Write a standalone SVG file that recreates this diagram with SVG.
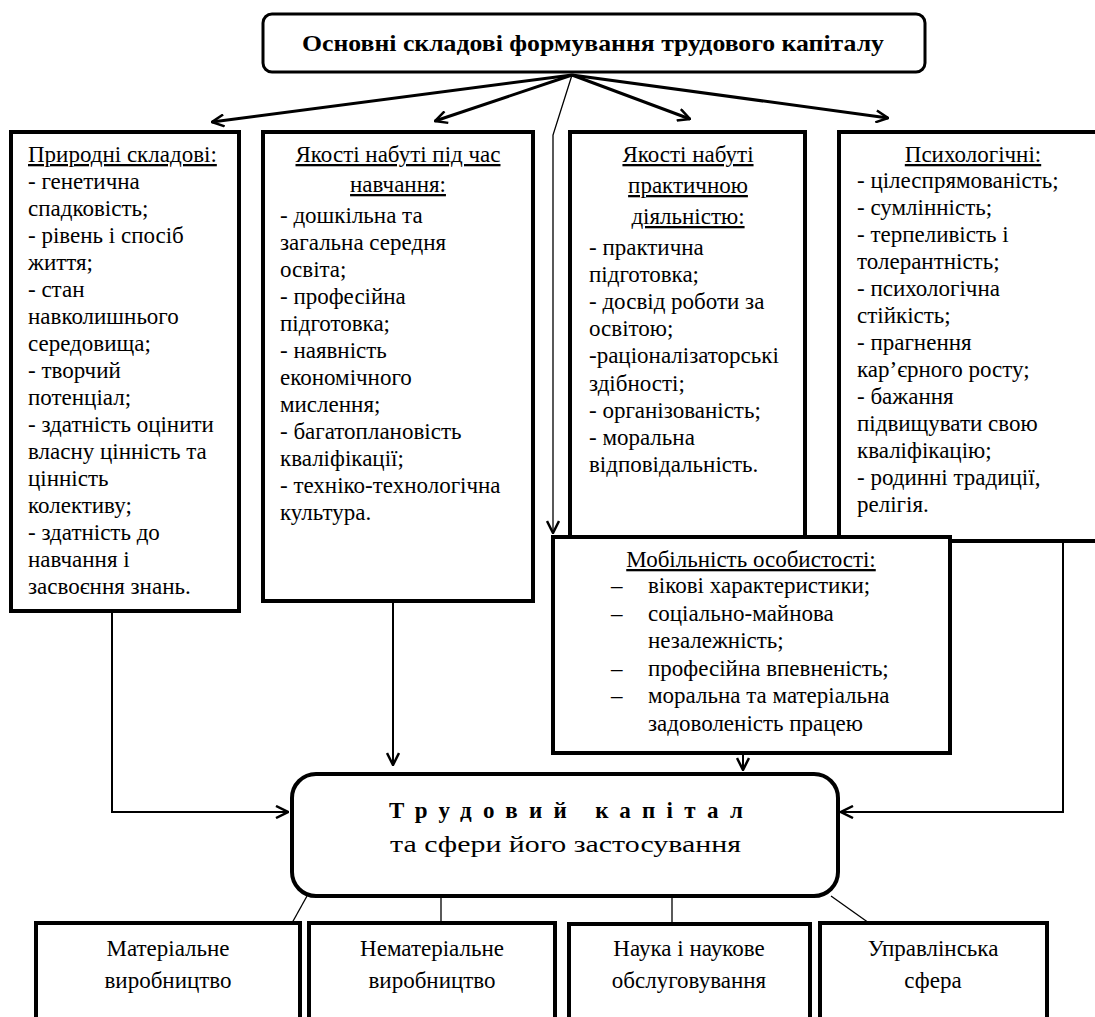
<svg xmlns="http://www.w3.org/2000/svg" width="1095" height="1017" viewBox="0 0 1095 1017">
<style>
.box{fill:#fff;stroke:#000;stroke-width:4}
.t{font-family:"Liberation Serif","Times New Roman",serif;font-size:23px;fill:#000}
.h{text-decoration:underline;text-anchor:middle}
.c{text-anchor:middle}
.arr{fill:none;stroke:#000;stroke-width:3}
.ln{fill:none;stroke:#000;stroke-width:2}
.thin{fill:none;stroke:#000;stroke-width:1.3}
</style>
<defs>
<marker id="ah" viewBox="0 0 14 14" markerWidth="14" markerHeight="14" refX="13" refY="7" orient="auto" markerUnits="userSpaceOnUse">
<path d="M1,1 L13,7 L1,13" fill="none" stroke="#000" stroke-width="2.5"/>
</marker>
</defs>
<rect width="1095" height="1017" fill="#fff"/>

<g id="connectors">
<path class="arr" d="M572,75 L212,122" stroke-width="2.6" marker-end="url(#ah)"/>
<path class="arr" d="M572,75 L435,121" marker-end="url(#ah)"/>
<path class="arr" d="M572,75 L690,119" marker-end="url(#ah)"/>
<path class="arr" d="M572,75 L888,118" marker-end="url(#ah)"/>
<path class="thin" d="M572,75 L553,135 L553,533" marker-end="url(#ah)"/>
<path class="ln" d="M112,582 L112,812 L288,812" marker-end="url(#ah)"/>
<path class="ln" d="M393,601 L393,765" marker-end="url(#ah)"/>
<path class="ln" d="M743,753 L743,770" marker-end="url(#ah)"/>
<path class="ln" d="M1063,541 L1063,812 L841,812" marker-end="url(#ah)"/>
<path class="thin" d="M307,896 L292,923"/>
<path class="thin" d="M441,896 L441,923"/>
<path class="thin" d="M672,896 L672,923"/>
<path class="thin" d="M831,896 L869,923"/>
</g>

<g id="top">
<rect x="263" y="14" width="662" height="58" rx="9" fill="#fff" stroke="#000" stroke-width="3"/>
<text class="t" x="302" y="51" font-size="27" font-weight="bold" textLength="582" lengthAdjust="spacingAndGlyphs">Основні складові формування трудового капіталу</text>
</g>

<g id="natural">
<rect class="box" x="11" y="132" width="228" height="479"/>
<text class="t" x="28" y="162"><tspan text-decoration="underline">Природні складові:</tspan>
<tspan x="28" dy="27">- генетична</tspan>
<tspan x="28" dy="27">спадковість;</tspan>
<tspan x="28" dy="27">- рівень і спосіб</tspan>
<tspan x="28" dy="27">життя;</tspan>
<tspan x="28" dy="27">- стан</tspan>
<tspan x="28" dy="27">навколишнього</tspan>
<tspan x="28" dy="27">середовища;</tspan>
<tspan x="28" dy="27">- творчий</tspan>
<tspan x="28" dy="27">потенціал;</tspan>
<tspan x="28" dy="27">- здатність оцінити</tspan>
<tspan x="28" dy="27">власну цінність та</tspan>
<tspan x="28" dy="27">цінність</tspan>
<tspan x="28" dy="27">колективу;</tspan>
<tspan x="28" dy="27">- здатність до</tspan>
<tspan x="28" dy="27">навчання і</tspan>
<tspan x="28" dy="27">засвоєння знань.</tspan></text>
</g>

<g id="study">
<rect class="box" x="263" y="132" width="270" height="469"/>
<text class="t h" x="398" y="162">Якості набуті під час</text>
<text class="t h" x="398" y="192">навчання:</text>
<text class="t" x="280" y="223">- дошкільна та
<tspan x="280" dy="27">загальна середня</tspan>
<tspan x="280" dy="27">освіта;</tspan>
<tspan x="280" dy="27">- професійна</tspan>
<tspan x="280" dy="27">підготовка;</tspan>
<tspan x="280" dy="27">- наявність</tspan>
<tspan x="280" dy="27">економічного</tspan>
<tspan x="280" dy="27">мислення;</tspan>
<tspan x="280" dy="27">- багатоплановість</tspan>
<tspan x="280" dy="27">кваліфікації;</tspan>
<tspan x="280" dy="27">- техніко-технологічна</tspan>
<tspan x="280" dy="27">культура.</tspan></text>
</g>

<g id="practice">
<rect class="box" x="570" y="132" width="235" height="405"/>
<text class="t h" x="688" y="162">Якості набуті</text>
<text class="t h" x="688" y="193">практичною</text>
<text class="t h" x="688" y="224">діяльністю:</text>
<text class="t" x="589" y="255">- практична
<tspan x="589" dy="27.1">підготовка;</tspan>
<tspan x="589" dy="27.1">- досвід роботи за</tspan>
<tspan x="589" dy="27.1">освітою;</tspan>
<tspan x="589" dy="27.1">-раціоналізаторські</tspan>
<tspan x="589" dy="27.1">здібності;</tspan>
<tspan x="589" dy="27.1">- організованість;</tspan>
<tspan x="589" dy="27.1">- моральна</tspan>
<tspan x="589" dy="27.1">відповідальність.</tspan></text>
</g>

<g id="psych">
<rect class="box" x="839" y="132" width="270" height="409"/>
<text class="t h" x="973" y="162">Психологічні:</text>
<text class="t" x="857" y="188">- цілеспрямованість;
<tspan x="857" dy="27">- сумлінність;</tspan>
<tspan x="857" dy="27">- терпеливість і</tspan>
<tspan x="857" dy="27">толерантність;</tspan>
<tspan x="857" dy="27">- психологічна</tspan>
<tspan x="857" dy="27">стійкість;</tspan>
<tspan x="857" dy="27">- прагнення</tspan>
<tspan x="857" dy="27">кар’єрного росту;</tspan>
<tspan x="857" dy="27">- бажання</tspan>
<tspan x="857" dy="27">підвищувати свою</tspan>
<tspan x="857" dy="27">кваліфікацію;</tspan>
<tspan x="857" dy="27">- родинні традиції,</tspan>
<tspan x="857" dy="27">релігія.</tspan></text>
</g>

<g id="mobility">
<rect class="box" x="553" y="537" width="397" height="216"/>
<text class="t h" x="751" y="567">Мобільність особистості:</text>
<text class="t" x="611" y="593">–<tspan x="611" dy="27.6">–</tspan><tspan x="611" dy="55.2">–</tspan><tspan x="611" dy="27.6">–</tspan></text>
<text class="t" x="648" y="593">вікові характеристики;
<tspan x="648" dy="27.6">соціально-майнова</tspan>
<tspan x="648" dy="27.6">незалежність;</tspan>
<tspan x="648" dy="27.6">професійна впевненість;</tspan>
<tspan x="648" dy="27.6">моральна та матеріальна</tspan>
<tspan x="648" dy="27.6">задоволеність працею</tspan></text>
</g>

<g id="capital">
<rect x="292" y="774" width="546" height="122" rx="24" fill="#fff" stroke="#000" stroke-width="4"/>
<text class="t" x="389" y="818" font-size="30" font-weight="bold" textLength="354" lengthAdjust="spacing">Трудовий капітал</text>
<text class="t" x="390" y="852" font-size="28" textLength="351" lengthAdjust="spacingAndGlyphs">та сфери його застосування</text>
</g>

<g id="material">
<rect class="box" x="36" y="923" width="264" height="130"/>
<text class="t c" x="168" y="956">Матеріальне</text>
<text class="t c" x="168" y="988">виробництво</text>
</g>
<g id="nonmaterial">
<rect class="box" x="309" y="923" width="246" height="130"/>
<text class="t c" x="432" y="956">Нематеріальне</text>
<text class="t c" x="432" y="988">виробництво</text>
</g>
<g id="science">
<rect class="box" x="569" y="924" width="241" height="130"/>
<text class="t c" x="689" y="956">Наука і наукове</text>
<text class="t c" x="689" y="988">обслуговування</text>
</g>
<g id="management">
<rect class="box" x="820" y="923" width="227" height="130"/>
<text class="t c" x="933" y="956">Управлінська</text>
<text class="t c" x="933" y="988">сфера</text>
</g>
</svg>
